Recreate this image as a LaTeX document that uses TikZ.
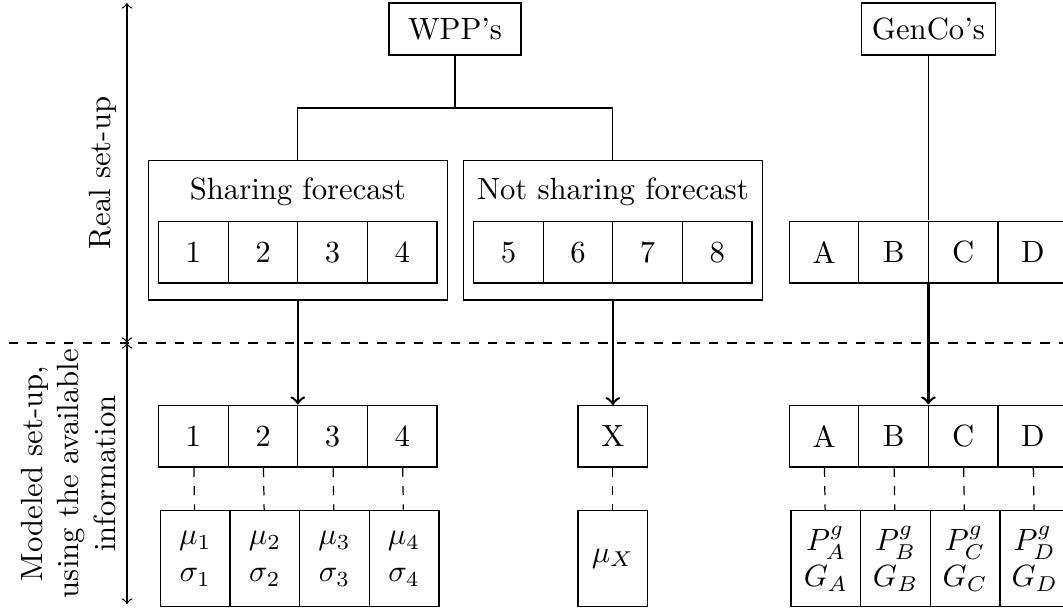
\documentclass[tikz,border=0pt]{standalone}
\usepackage{amsmath}
\usepackage{amssymb}
\usetikzlibrary{matrix,arrows,positioning}

\begin{document}
\begin{tikzpicture}[
  cell/.style={draw, minimum width=0.797cm, minimum height=0.702cm, inner sep=1pt},
  tallcell/.style={cell, minimum height=1.099cm, align=center},
  cellrow/.style={matrix of nodes, column sep=-\pgflinewidth, inner sep=0pt,
    nodes={cell, anchor=center}},
  head/.style={draw, minimum width=1.51cm, minimum height=0.595cm},
  groupbox/.style={draw, minimum width=3.42cm, minimum height=1.595cm}]
  \useasboundingbox (0,0) rectangle (12.171,-6.985);

  % real set-up
  \node[head] (wpp) at (5.21,-0.332) {WPP's};
  \node[head] (genco) at (10.63,-0.332) {GenCo's};
  \node[groupbox] (share) at (3.41,-2.637) {};
  \node[groupbox] (noshare) at (7.017,-2.637) {};
  \node (sharetxt) at (3.41,-2.202) {Sharing forecast};
  \node (noshtxt) at (7.017,-2.202) {Not sharing forecast};
  \matrix (wa) [cellrow] at (3.41,-2.889) {1 & 2 & 3 & 4\\};
  \matrix (wb) [cellrow] at (7.017,-2.889) {5 & 6 & 7 & 8\\};
  \matrix (ga) [cellrow] at (10.63,-2.889) {A & B & C & D\\};

  \coordinate (fork) at (5.21,-1.237);
  \draw (wpp) -- (fork);
  \draw (share.north) |- (fork) -| (noshare.north);
  \draw (genco) -- (ga);

  % modeled set-up
  \matrix (ma) [cellrow] at (3.41,-4.996) {1 & 2 & 3 & 4\\};
  \node[cell] (mx) at (7.017,-4.996) {X};
  \matrix (mg) [cellrow] at (10.63,-4.996) {A & B & C & D\\};

  \node[tallcell] (sa1) at (2.236,-6.397) {$\mu_1$\\$\sigma_1$};
  \node[tallcell, right=-\pgflinewidth of sa1] (sa2) {$\mu_2$\\$\sigma_2$};
  \node[tallcell, right=-\pgflinewidth of sa2] (sa3) {$\mu_3$\\$\sigma_3$};
  \node[tallcell, right=-\pgflinewidth of sa3] (sa4) {$\mu_4$\\$\sigma_4$};
  \node[tallcell] (sx) at (7.017,-6.397) {$\mu_X$};
  \node[tallcell] (sg1) at (9.456,-6.397) {$P^g_A$\\$G_A$};
  \node[tallcell, right=-\pgflinewidth of sg1] (sg2) {$P^g_B$\\$G_B$};
  \node[tallcell, right=-\pgflinewidth of sg2] (sg3) {$P^g_C$\\$G_C$};
  \node[tallcell, right=-\pgflinewidth of sg3] (sg4) {$P^g_D$\\$G_D$};

  \path[->, thick]
  (share) edge (ma)
  (noshare) edge (mx)
  (ga) edge (mg);
  \path[dashed]
  (ma-1-1) edge (sa1)
  (ma-1-2) edge (sa2)
  (ma-1-3) edge (sa3)
  (ma-1-4) edge (sa4)
  (mx) edge (sx)
  (mg-1-1) edge (sg1)
  (mg-1-2) edge (sg2)
  (mg-1-3) edge (sg3)
  (mg-1-4) edge (sg4);

  % split between both set-ups
  \coordinate (top) at (1.454,-0.034);
  \coordinate (mid) at (1.454,-3.927);
  \coordinate (bot) at (1.454,-6.916);
  \coordinate (cutl) at (0.103,-3.927);
  \coordinate (cutr) at (12.3,-3.927);
  \draw[dashed] (cutl) -- (cutr);
  \draw[<->] (mid) -- node[sloped, above] {Real set-up} (top);
  \draw[<->] (bot) -- node[sloped, above, align=center]
    {Modeled set-up,\\using the available\\information} (mid);
\end{tikzpicture}
\end{document}
